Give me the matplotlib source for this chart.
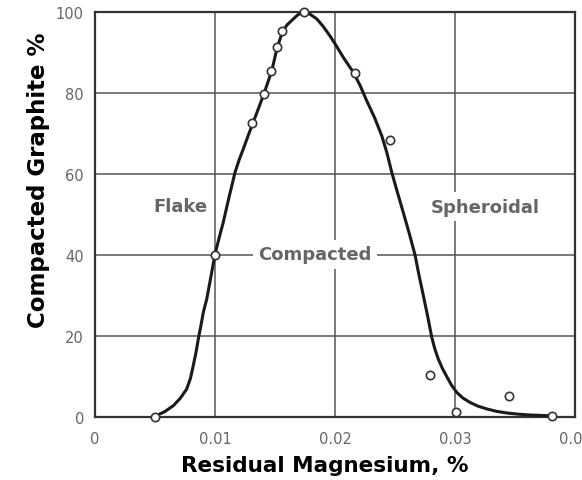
import matplotlib
matplotlib.use("Agg")
import matplotlib.pyplot as plt

# Measured data points (open circles)
pts_x = [0.0050, 0.0100, 0.0131, 0.0141, 0.0147, 0.0152, 0.0156, 0.0174,
         0.0217, 0.0246, 0.0279, 0.0301, 0.0345, 0.0381]
pts_y = [0.0, 40.0, 72.6, 79.8, 85.5, 91.3, 95.2, 99.9,
         84.9, 68.5, 10.4, 1.2, 5.3, 0.3]

# Fitted curve
curve_x = [0.00500, 0.00580, 0.00653, 0.00710, 0.00764, 0.00795, 0.00819, 0.00842,
           0.00861, 0.00883, 0.00903, 0.00931, 0.00965, 0.01000, 0.01035, 0.01069,
           0.01118, 0.01167, 0.01200, 0.01236, 0.01278, 0.01319, 0.01365, 0.01408,
           0.01473, 0.01519, 0.01564, 0.01600, 0.01639, 0.01690, 0.01736, 0.01790,
           0.01848, 0.01900, 0.01958, 0.02012, 0.02069, 0.02153, 0.02210, 0.02264,
           0.02330, 0.02389, 0.02433, 0.02473, 0.02520, 0.02569, 0.02620, 0.02667,
           0.02700, 0.02736, 0.02772, 0.02806, 0.02833, 0.02861, 0.02895, 0.02931,
           0.02970, 0.03014, 0.03065, 0.03125, 0.03190, 0.03264, 0.03345, 0.03431,
           0.03525, 0.03625, 0.03710, 0.03792]
curve_y = [0.2, 1.3, 2.8, 4.6, 6.9, 9.5, 12.7, 16.0,
           19.3, 22.6, 25.9, 29.1, 34.5, 40.2, 44.3, 48.1,
           54.4, 60.4, 63.4, 66.2, 69.6, 72.8, 76.4, 79.8,
           85.5, 91.3, 95.2, 96.8, 97.9, 99.3, 100.0, 99.5,
           98.3, 96.5, 94.1, 91.6, 88.8, 85.1, 81.8, 78.1,
           73.9, 69.5, 65.2, 60.4, 55.5, 50.5, 45.2, 40.0,
           35.0, 30.0, 24.9, 19.7, 16.7, 14.3, 12.0, 10.0,
           7.9, 6.1, 4.7, 3.6, 2.7, 2.0, 1.4, 1.0,
           0.7, 0.5, 0.4, 0.3]

x_ticks = [0, 0.01, 0.02, 0.03, 0.04]
x_tick_labels = ["0", "0.01", "0.02", "0.03", "0.04"]
y_ticks = [0, 20, 40, 60, 80, 100]
y_tick_labels = ["0", "20", "40", "60", "80", "100"]

region_labels = ["Flake", "Compacted", "Spheroidal"]
region_x = [0.00708, 0.01833, 0.0325]
region_y = [52.1, 40.2, 51.9]

plt.rcParams['font.family'] = ['DejaVu Sans']

fig = plt.figure(figsize=(5.82, 4.81), dpi=100)
ax = fig.add_axes([95/582, 1-418/481, 480/582, 405/481])
ax.set_xlim(0, 0.04)
ax.set_ylim(0, 100)

ax.set_xticks(x_ticks)
ax.set_xticklabels(x_tick_labels)
ax.set_yticks(y_ticks)
ax.set_yticklabels(y_tick_labels)
ax.tick_params(length=0, labelsize=10.5, labelcolor="#666666", pad=8)
ax.tick_params(axis='x', pad=10)

ax.grid(True, color="#555555", linewidth=1.1, zorder=0)
ax.set_axisbelow(True)
for s in ax.spines.values():
    s.set_color("#333333")
    s.set_linewidth(1.6)

for lab, lx, ly in zip(region_labels, region_x, region_y):
    ax.text(lx, ly, lab, ha="center", va="center", fontsize=13,
            color="#666666", fontweight="bold", zorder=2,
            bbox=dict(boxstyle="square,pad=0.3", facecolor="white", edgecolor="none"))

ax.plot(curve_x, curve_y, color="#1a1a1a", linewidth=2.2, zorder=3,
        solid_joinstyle="round", solid_capstyle="round", clip_on=False)
ax.plot(pts_x, pts_y, linestyle="none", marker="o", markersize=6,
        markerfacecolor="white", markeredgecolor="#333333", markeredgewidth=1.2,
        zorder=4, clip_on=False)

ax.set_xlabel("Residual Magnesium, %", fontsize=15.5, fontweight="bold")
ax.xaxis.set_label_coords((325 - 95) / 480, -(456 - 418) / 405)
ax.set_ylabel("Compacted Graphite %", fontsize=16.5, fontweight="bold")
ax.yaxis.set_label_coords(-(95 - 50) / 480, (418 - 180) / 405)

fig.savefig("out.png", dpi=100)
